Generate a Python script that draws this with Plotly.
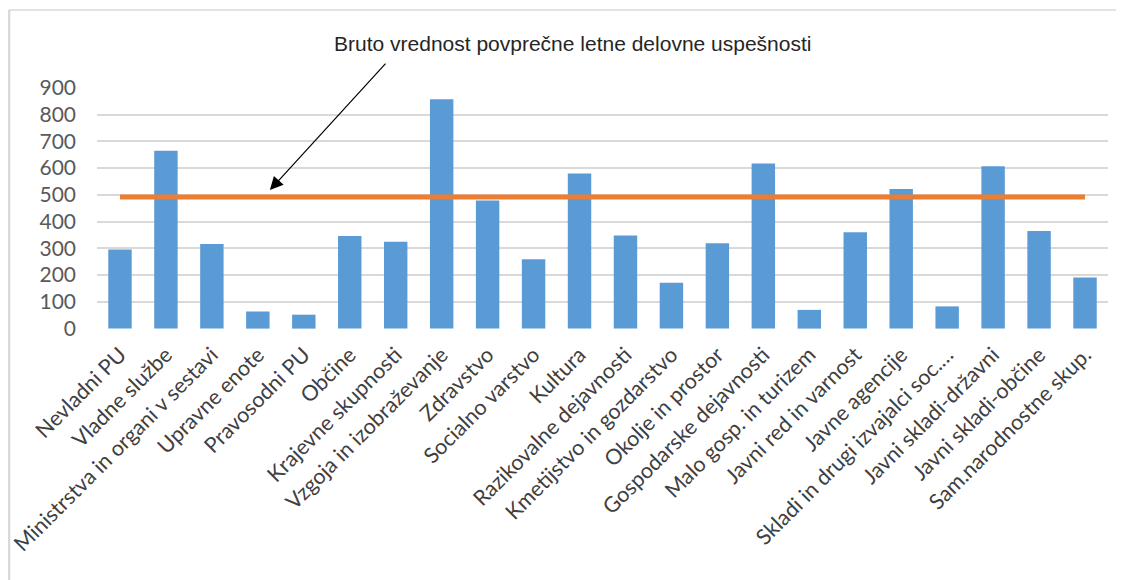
"""Bruto vrednost povprečne letne delovne uspešnosti po skupinah uporabnikov."""

import plotly.graph_objects as go

kategorije = [
    "Nevladni PU",
    "Vladne službe",
    "Ministrstva in organi v sestavi",
    "Upravne enote",
    "Pravosodni PU",
    "Občine",
    "Krajevne skupnosti",
    "Vzgoja in izobraževanje",
    "Zdravstvo",
    "Socialno varstvo",
    "Kultura",
    "Razikovalne dejavnosti",
    "Kmetijstvo in gozdarstvo",
    "Okolje in prostor",
    "Gospodarske dejavnosti",
    "Malo gosp. in turizem",
    "Javni red in varnost",
    "Javne agencije",
    "Skladi in drugi izvajalci soc.…",
    "Javni skladi-državni",
    "Javni skladi-občine",
    "Sam.narodnostne skup.",
]

vrednosti = [
    296, 665, 316, 64, 52, 346, 325, 857, 479, 259, 580,
    348, 171, 319, 617, 70, 360, 522, 83, 607, 365, 191,
]

povprecje = 492
tick_y = [0, 100, 200, 300, 400, 500, 600, 700, 800, 900]

MODRA = "#5B9BD5"
ORANZNA = "#ED7D31"
MREZA = "#D9D9D9"
TEKST = "#595959"

fig = go.Figure()

fig.add_trace(
    go.Bar(
        x=kategorije,
        y=vrednosti,
        marker=dict(color=MODRA, line=dict(width=0)),
        showlegend=False,
    )
)

fig.add_trace(
    go.Scatter(
        x=kategorije,
        y=[povprecje] * len(kategorije),
        mode="lines",
        line=dict(color=ORANZNA, width=5),
        showlegend=False,
    )
)

# okvir grafikona (zgoraj in levo)
fig.add_shape(
    type="line", xref="paper", yref="paper",
    x0=-0.087, x1=1.03, y0=1.318, y1=1.318,
    line=dict(color=MREZA, width=1.5),
)
fig.add_shape(
    type="line", xref="paper", yref="paper",
    x0=-0.087, x1=-0.087, y0=1.318, y1=-1.1,
    line=dict(color=MREZA, width=2.5),
)

fig.add_annotation(
    text="Bruto vrednost povprečne letne delovne uspešnosti",
    xref="paper", yref="paper",
    x=0.47, y=1.178,
    xanchor="center", yanchor="middle",
    showarrow=False,
    font=dict(family="Liberation Sans, Arial, sans-serif", size=21, color="#262626"),
)

fig.add_annotation(
    text="",
    xref="paper", yref="paper",
    x=0.171, y=0.574,
    ax=117, ay=-128,
    showarrow=True,
    arrowhead=2,
    arrowsize=2.2,
    arrowwidth=1.2,
    arrowcolor="black",
)

# stran ima 8 px odmika (body margin), zato so robovi zmanjšani
fig.update_layout(
    width=1124,
    height=580,
    margin=dict(l=89, r=24, t=79, b=259),
    paper_bgcolor="white",
    plot_bgcolor="white",
    bargap=0.49,
    font=dict(family="Lato, Open Sans, sans-serif", color=TEKST, size=21),
)

fig.update_xaxes(
    type="category",
    tickangle=-45,
    automargin=False,
    showgrid=False,
    showline=False,
    ticks="",
    ticklabelstandoff=8,
    tickfont=dict(family="Lato, sans-serif", size=21.5, color="#404040"),
)

fig.update_yaxes(
    range=[-1.5, 903],
    tickvals=tick_y,
    automargin=False,
    showgrid=True,
    gridcolor=MREZA,
    gridwidth=1.5,
    zeroline=False,
    showline=False,
    ticks="",
    ticklabelstandoff=20,
    tickfont=dict(family="Lato, sans-serif", size=21, color=TEKST),
)

fig.write_html("out.html")
